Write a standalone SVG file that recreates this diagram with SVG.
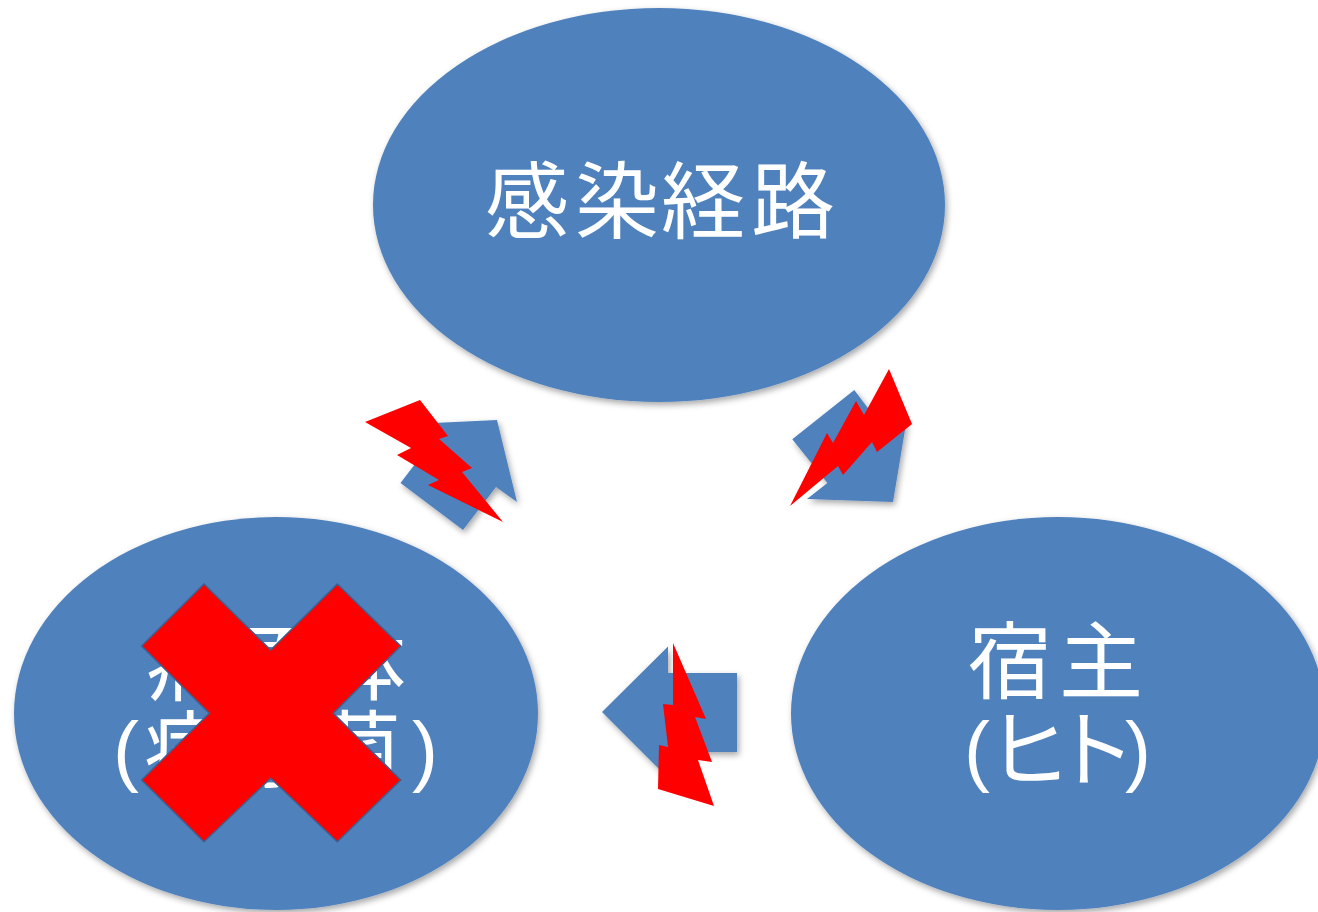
<svg xmlns="http://www.w3.org/2000/svg" width="1318" height="912" viewBox="0 0 1318 912">
  <defs>
    <filter id="sh" x="-10%" y="-10%" width="125%" height="125%">
      <feDropShadow dx="2" dy="3" stdDeviation="3" flood-color="#000" flood-opacity="0.35"/>
    </filter>
    <style>
      .node { fill: #4F81BD; filter: url(#sh); }
      .label { fill: #FFFFFF; font-family: "Noto Sans CJK JP", "Noto Sans CJK SC", sans-serif; font-size: 84px; text-anchor: middle; }
      .paren { font-family: "Liberation Sans", Arial, sans-serif; font-size: 78px; }
      .arrow { fill: #4F81BD; filter: url(#sh); }
      .bolt { fill: #FF0000; }
      .cross { fill: #FF0000; stroke: #3F5F8C; stroke-width: 1.5; stroke-linejoin: miter; }
    </style>
  </defs>
  <rect width="1318" height="912" fill="#FFFFFF"/>

  <g id="node-route">
    <ellipse class="node" cx="659" cy="205" rx="286" ry="197"/>
    <text class="label" x="527 617 703 793" y="232">感染経路</text>
  </g>

  <g id="node-pathogen">
    <ellipse class="node" cx="276" cy="713.5" rx="262" ry="196.5"/>
    <text class="label"><tspan x="188 276 364" y="694">病原体</tspan><tspan class="paren" x="126" y="777">(</tspan><tspan x="186 272 359" y="781">病原菌</tspan><tspan class="paren" x="425" y="777">)</tspan></text>
    <polygon class="cross" points="141.7,646 204,584 270.7,650 337.3,584 400.7,646 333.3,713.3 400.7,780 337.3,841.7 270.7,778.3 204,841.7 141.7,780 209.3,713.3"/>
  </g>

  <g id="node-host">
    <ellipse class="node" cx="1058" cy="713.5" rx="267" ry="196.5"/>
    <text class="label"><tspan x="1010 1101" y="692">宿主</tspan><tspan class="paren" x="977" y="777">(</tspan><tspan x="1029 1094" y="780">ヒト</tspan><tspan class="paren" x="1138" y="777">)</tspan></text>
  </g>

  <g id="connectors">
    <polygon class="arrow" points="497,420 517,502 496,487 463,530 400.5,483 433.4,440 412.6,424"/>
    <polygon class="arrow" points="893,502 807,499 827.4,483 792.3,439.3 854.3,390 887.4,434 907,418"/>
    <polygon class="arrow" points="602,712 668,646.5 668,673 737,673 737,752 668,752 668,778"/>
    <polygon class="bolt" points="365,422 420,400 448,436 439,439 472,468 462,472 503,522 428,485 439,480 397,455 411,448"/>
    <polygon class="bolt" points="790,506 838,466 843,475 872,442 877,452 912,424 889,369 864,415 856,401 833,443 827,433"/>
    <polygon class="bolt" points="673,643 706,719 695,717 712,762 698,760 714,806 658,789 659,745 668,747 663,704 673,705"/>
  </g>
</svg>
